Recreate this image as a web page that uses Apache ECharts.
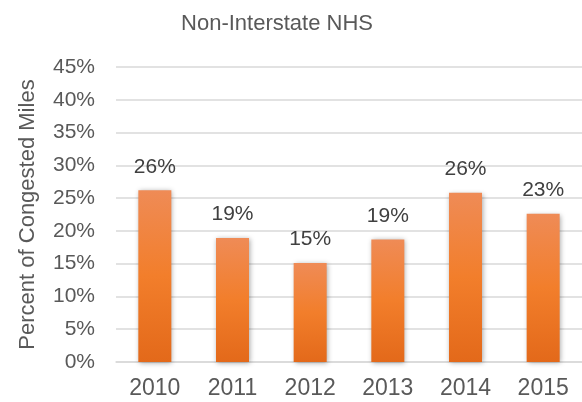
<!DOCTYPE html>
<html>
<head>
<meta charset="utf-8">
<script src="https://cdn.jsdelivr.net/npm/echarts@6/dist/echarts.min.js"></script>
<style>
  html, body { margin: 0; padding: 0; background: #fff; }
  #main { width: 582px; height: 402px; }
</style>
</head>
<body>
<div id="main"></div>
<script>
var years = ['2010', '2011', '2012', '2013', '2014', '2015'];
var congested = [26.2, 18.9, 15.1, 18.7, 25.8, 22.6];
var labels = ['26%', '19%', '15%', '19%', '26%', '23%'];

var chartDom = document.getElementById('main');
var myChart = echarts.init(chartDom);
var font = '"Liberation Sans", Arial, sans-serif';

var option = {
    animation: false,
    title: {
        text: 'Non-Interstate NHS',
        left: 272,
        textAlign: 'center',
        top: 8,
        textStyle: { fontFamily: font, fontSize: 22, fontWeight: 'normal', color: '#595959' }
    },
    grid: {
        left: 116,
        right: -15,
        top: 67,
        bottom: 40
    },
    xAxis: {
        type: 'category',
        data: years,
        axisLine: { lineStyle: { color: '#d9d9d9', width: 1.5 } },
        axisTick: { show: false },
        axisLabel: { color: '#595959', fontFamily: font, fontSize: 23, margin: 15 }
    },
    yAxis: {
        type: 'value',
        min: 0,
        max: 45,
        interval: 5,
        name: 'Percent of Congested Miles',
        nameLocation: 'middle',
        nameGap: 77,
        nameTextStyle: { color: '#595959', fontFamily: font, fontSize: 22 },
        axisLine: { show: false },
        axisTick: { show: false },
        splitLine: { lineStyle: { color: '#d9d9d9', width: 1.5 } },
        axisLabel: {
            color: '#595959', fontFamily: font, fontSize: 21, margin: 21,
            formatter: function (v) { return v + '%'; }
        }
    },
    series: [{
        type: 'bar',
        data: congested,
        barWidth: 33,
        itemStyle: {
            color: new echarts.graphic.LinearGradient(0, 0, 0, 1, [
                { offset: 0, color: '#ef8b56' },
                { offset: 0.5, color: '#f27e2b' },
                { offset: 1, color: '#e3691a' }
            ]),
            shadowBlur: 5,
            shadowColor: 'rgba(0,0,0,0.35)',
            shadowOffsetX: 1,
            shadowOffsetY: 1
        },
        label: {
            show: true,
            position: 'top',
            distance: 13,
            color: '#404040',
            fontFamily: font,
            fontSize: 21,
            formatter: function (p) { return labels[p.dataIndex]; }
        }
    }]
};

myChart.setOption(option);
</script>
</body>
</html>
